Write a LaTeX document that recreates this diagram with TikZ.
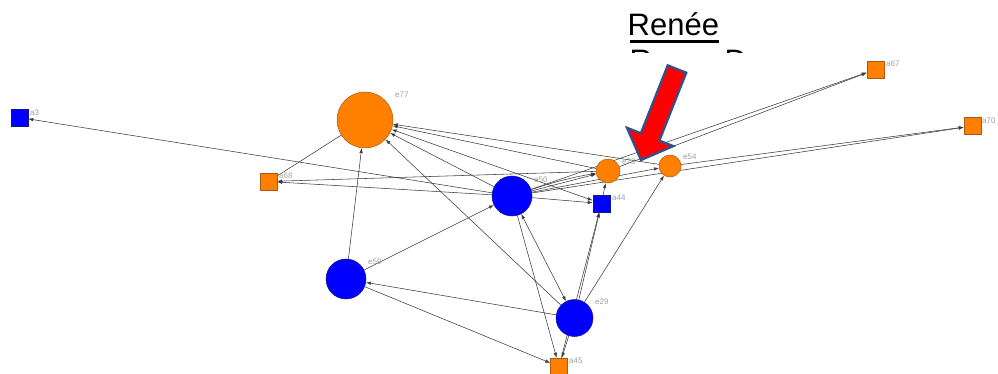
\documentclass[tikz,border=0pt]{standalone}
\usepackage{fontspec}
\setmainfont{Liberation Sans}
\usetikzlibrary{arrows.meta,calc,backgrounds}
\definecolor{org}{RGB}{255,128,0}
\definecolor{orgline}{RGB}{170,90,20}
\definecolor{blu}{RGB}{0,0,255}
\definecolor{bluline}{RGB}{20,20,140}
\definecolor{edgec}{RGB}{60,60,60}
\definecolor{labc}{RGB}{160,160,160}
\definecolor{arrred}{RGB}{255,0,0}
\definecolor{arrblue}{RGB}{47,82,143}
\begin{document}
\begin{tikzpicture}[x=1pt,y=-1pt,
  sq/.style={rectangle, minimum size=17pt, inner sep=0pt, line width=0.5pt},
  orsq/.style={sq, fill=org, draw=orgline},
  blsq/.style={sq, fill=blu, draw=bluline},
  circ/.style={circle, inner sep=0pt, line width=0.5pt},
  orc/.style={circ, fill=org, draw=orgline},
  blc/.style={circ, fill=blu, draw=bluline},
  lab/.style={anchor=west, inner sep=0pt, text=labc, font=\fontsize{8}{9}\selectfont},
  ed/.style={draw=edgec, line width=0.55pt, -{Latex[length=5pt,width=3.5pt]}},
  edboth/.style={draw=edgec, line width=0.55pt, {Latex[length=5pt,width=3.5pt]}-{Latex[length=5pt,width=3.5pt]}},
  plain/.style={draw=edgec, line width=0.55pt},
  bigtext/.style={anchor=base west, inner sep=0pt, font=\fontsize{31}{37}\selectfont}
]
\useasboundingbox (0,0) rectangle (998,374);

% nodes
\node[blsq] (a3) at (19.5,117.5) {};
\node[orc, minimum size=56pt] (e77) at (365,120) {};
\node[orsq] (a68) at (268.5,181.5) {};
\node[blc, minimum size=40pt] (e50) at (512,196) {};
\node[orc, minimum size=24pt] (e73) at (608,171) {};
\node[orc, minimum size=22pt] (e54) at (670,166) {};
\node[blsq] (a44) at (601.5,203.5) {};
\node[orsq] (a67) at (875.5,69.5) {};
\node[orsq] (a70) at (972.5,126) {};
\node[blc, minimum size=40pt] (e59) at (346,279) {};
\node[blc, minimum size=37pt] (e29) at (574.5,318) {};
\node[orsq] (a45) at (559,366.5) {};

% labels
\node[lab] (la3) at (30,112.5) {a3};
\node[lab] (le77) at (395,94.5) {e77};
\node[lab] (la68) at (279,176) {a68};
\node[lab] (le50) at (534,179.5) {e50};
\node[lab] (le73) at (622,162) {e73};
\node[lab] (le54) at (683,156.5) {e54};
\node[lab] (la44) at (612,198) {a44};
\node[lab] (la67) at (886,63.5) {a67};
\node[lab] (la70) at (982,121) {a70};
\node[lab] (le59) at (368,262) {e59};
\node[lab] (le29) at (595,302) {e29};
\node[lab] (la45) at (569,361) {a45};

% edges
\begin{scope}[on background layer]
\draw[ed] (e50) -- (a3);
\draw[plain] (e77) -- (a68);
\draw[ed] (e73) -- (a68);
\draw[ed] (e50) -- (a68);
\draw[ed] (e59) -- (e77);
\draw[ed] (e29) -- (e77);
\draw[ed] (e73) -- (e77);
\draw[ed] (e54) -- (e77);
\draw[ed] (e50) -- (e77);
\draw[edboth] (e77) -- (a44);
\draw[ed] (e50) -- (a44);
\draw[ed] (e50) -- (e73);
\draw[ed] (e50) to[bend left=4] (e73);
\draw[ed] (e50) -- (e54);
\draw[ed] (a44) -- (e73);
\draw[ed] (e29) -- (a44);
\draw[ed] (a45) -- (a44);
\draw[ed] (e29) -- (e54);
\draw[ed] (e59) -- (e50);
\draw[edboth] (e50) -- (e29);
\draw[ed] (e29) -- (e59);
\draw[ed] (e59) -- (a45);
\draw[ed] (e50) -- (a45);
\draw[ed] (e29) -- (a45);
\draw[ed] (e73) -- (a67);
\draw[ed] (e50) -- (a67);
\draw[ed] (e54) -- (a70);
\draw[ed] (e50) -- (a70);
\end{scope}

% title text
\node[bigtext] (ren) at (627.5,36) {Renée};
\draw[line width=2.3pt] ($(ren.base west)+(2,5.5)$) coordinate (ul1) -- ($(ren.base east)+(0,5.5)$) coordinate (ul2);
\begin{scope}
  \clip (615,45) rectangle (770,53);
  \node[bigtext] (ren2a) at (629.5,71.5) {R};
  \node[bigtext] (ren2b) at (724.5,71.5) {D};
\end{scope}

% red block arrow
\draw[fill=arrred, draw=arrblue, line width=2.2pt, line join=miter]
  (686.3,72.7) -- (659.4,140.6) -- (673.4,146.1) -- (641,160.1)
  -- (626.9,127.7) -- (640.8,133.2) -- (667.7,65.3) -- cycle;
\end{tikzpicture}
\end{document}
